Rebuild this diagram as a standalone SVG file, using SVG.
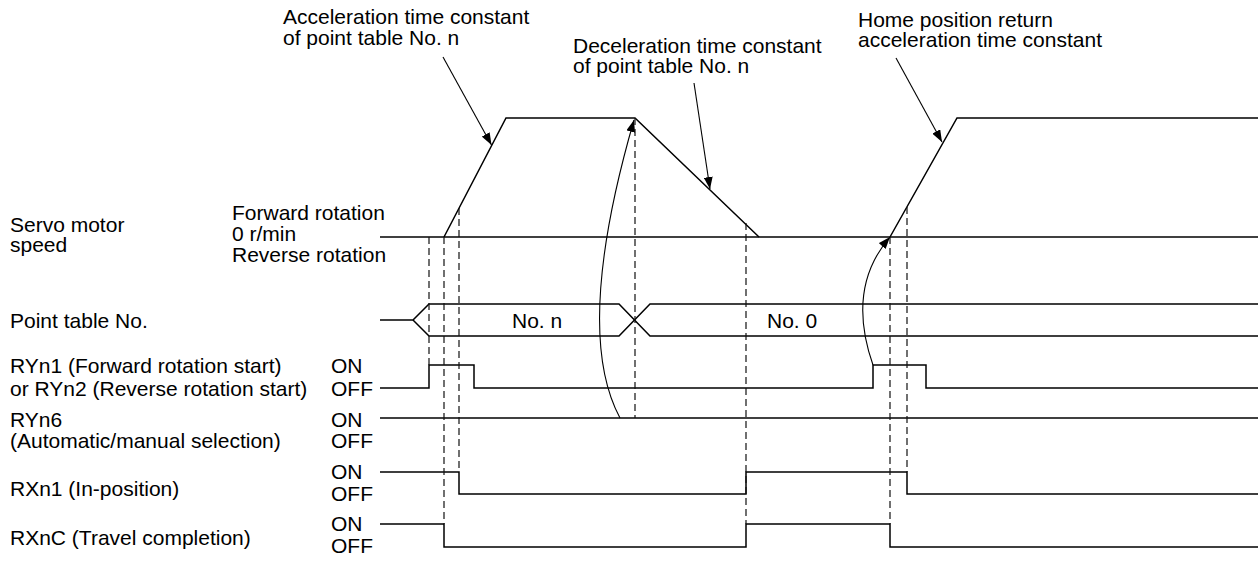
<svg xmlns="http://www.w3.org/2000/svg" width="1258" height="561" viewBox="0 0 1258 561">
<style>
text{font-family:"Liberation Sans",Arial,sans-serif;font-size:21px;fill:#000}
.sig{fill:none;stroke:#000;stroke-width:1.5}
.dash{fill:none;stroke:#111;stroke-width:1.2;stroke-dasharray:7 4}
.lead{fill:none;stroke:#000;stroke-width:1.1}
</style>
<defs>
<marker id="ah" markerUnits="userSpaceOnUse" markerWidth="13" markerHeight="9" refX="12" refY="4.5" orient="auto">
<path d="M0,0 L12,4.5 L0,9 z" fill="#000"/>
</marker>
</defs>
<rect width="1258" height="561" fill="#fff"/>

<g id="labels-top">
<text x="283" y="24">Acceleration time constant</text>
<text x="283" y="44.5">of point table No. n</text>
<text x="573" y="52.5">Deceleration time constant</text>
<text x="573" y="73">of point table No. n</text>
<text x="858" y="26.5">Home position return</text>
<text x="858" y="47">acceleration time constant</text>
</g>

<g id="servo-speed">
<text x="10" y="231.5">Servo motor</text>
<text x="10" y="252">speed</text>
<text x="232" y="220">Forward rotation</text>
<text x="232" y="240.5">0 r/min</text>
<text x="232" y="261.5">Reverse rotation</text>
<line class="sig" x1="380" y1="237" x2="1258" y2="237"/>
<polyline class="sig" points="444,237 506,118 635,118 759,237"/>
<polyline class="sig" points="890,237 957,118 1258,118"/>
</g>

<g id="point-table">
<text x="10" y="327.5">Point table No.</text>
<polyline class="sig" points="380,320 413,320 429,304 619,304 650,336 1258,336"/>
<polyline class="sig" points="413,320 429,336 619,336 650,304 1258,304"/>
<text x="512" y="328">No. n</text>
<text x="767" y="328">No. 0</text>
</g>

<g id="ryn1">
<text x="10" y="372.5">RYn1 (Forward rotation start)</text>
<text x="10" y="395.5">or RYn2 (Reverse rotation start)</text>
<text x="331" y="372.5">ON</text>
<text x="331" y="395.5">OFF</text>
<polyline class="sig" points="380,388 429,388 429,365 474,365 474,388 873,388 873,365 926,365 926,388 1258,388"/>
</g>

<g id="ryn6">
<text x="10" y="426.5">RYn6</text>
<text x="10" y="447.5">(Automatic/manual selection)</text>
<text x="331" y="426.5">ON</text>
<text x="331" y="447.5">OFF</text>
<line class="sig" x1="380" y1="418" x2="1258" y2="418"/>
</g>

<g id="rxn1">
<text x="331" y="478.5">ON</text>
<text x="10" y="495.5">RXn1 (In-position)</text>
<text x="331" y="500.5">OFF</text>
<polyline class="sig" points="380,472 459,472 459,494 746,494 746,472 907,472 907,494 1258,494"/>
</g>

<g id="rxnc">
<text x="331" y="531">ON</text>
<text x="10" y="545">RXnC (Travel completion)</text>
<text x="331" y="553">OFF</text>
<polyline class="sig" points="380,524 444,524 444,547 746,547 746,524 890,524 890,547 1258,547"/>
</g>

<g id="timing-guides">
<line class="dash" x1="429" y1="237" x2="429" y2="365"/>
<line class="dash" x1="444" y1="237" x2="444" y2="524"/>
<line class="dash" x1="459" y1="208" x2="459" y2="472"/>
<line class="dash" x1="635" y1="118" x2="635" y2="418"/>
<line class="dash" x1="746" y1="223" x2="746" y2="524"/>
<line class="dash" x1="890" y1="237" x2="890" y2="524"/>
<line class="dash" x1="907" y1="207" x2="907" y2="472"/>
</g>

<g id="connectors">
<line class="lead" x1="443" y1="57" x2="491.5" y2="145" marker-end="url(#ah)"/>
<line class="lead" x1="694" y1="83" x2="710" y2="189" marker-end="url(#ah)"/>
<line class="lead" x1="896" y1="58" x2="942" y2="142" marker-end="url(#ah)"/>
<path class="lead" d="M620,418 Q573,331 634,120" marker-end="url(#ah)"/>
<path class="lead" d="M873,365 Q846,288 890,237" marker-end="url(#ah)"/>
</g>
</svg>
